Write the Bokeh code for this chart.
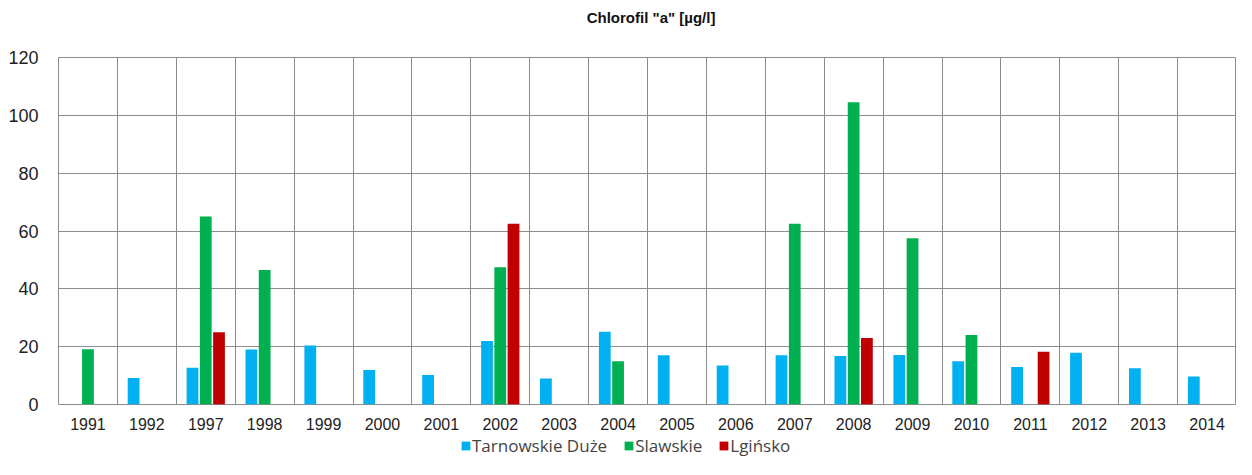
from bokeh.plotting import figure
from bokeh.layouts import column
from bokeh.models import ColumnDataSource, FixedTicker, Legend, LegendItem
from bokeh.core.properties import value
from bokeh.transform import dodge
from bokeh.embed import file_html
from bokeh.resources import INLINE

title_text = 'Chlorofil "a" [µg/l]'
years = ["1991", "1992", "1997", "1998", "1999", "2000", "2001", "2002", "2003", "2004",
         "2005", "2006", "2007", "2008", "2009", "2010", "2011", "2012", "2013", "2014"]
tarnowskie = [None, 9.2, 12.7, 19.0, 20.4, 11.9, 10.2, 22.0, 9.0, 25.2,
              17.0, 13.5, 17.0, 16.8, 17.1, 15.0, 13.0, 17.9, 12.5, 9.7]
slawskie = [19.1, None, 65.0, 46.5, None, None, None, 47.5, None, 15.0,
            None, None, 62.5, 104.5, 57.5, 24.0, None, None, None, None]
lginsko = [None, None, 25.0, None, None, None, None, 62.5, None, None,
           None, None, None, 23.0, None, None, 18.2, None, None, None]
yticks = [0, 20, 40, 60, 80, 100, 120]

series = [("Tarnowskie Duże", tarnowskie, "#00B0F0", -0.225),
          ("Slawskie", slawskie, "#00B050", 0.0),
          ("Lgińsko", lginsko, "#C00000", 0.225)]

W = 1236
LEFT = 58

# ---- title strip ----
tf = figure(width=W, height=34, output_backend="svg", toolbar_location=None,
            x_axis_type=None, y_axis_type=None, min_border=0, min_border_left=LEFT,
            x_range=(0, 1), y_range=(0, 1))
tf.outline_line_color = None
tf.xgrid.visible = False
tf.ygrid.visible = False
tf.text(x=[0.503], y=[0.5], text=[title_text],
        text_font=value("Liberation Sans"), text_font_size="15px",
        text_font_style="bold", text_color="#111111",
        text_align="center", text_baseline="middle")

# ---- main chart ----
p = figure(width=W, height=398, x_range=(0, len(years)), y_range=(0, 120),
           output_backend="svg", toolbar_location=None,
           min_border_left=LEFT, min_border_right=0, min_border_top=23, min_border_bottom=24)

grid_col = "#8c8c8c"
p.outline_line_color = grid_col
p.outline_line_width = 1

for name, vals, col, off in series:
    xs = [i + 0.5 for i, v in enumerate(vals) if v is not None]
    ts = [v for v in vals if v is not None]
    src = ColumnDataSource(dict(x=xs, top=ts))
    p.vbar(x=dodge("x", off), top="top", width=0.2, source=src,
           fill_color=col, line_color=None)

p.xaxis.ticker = FixedTicker(ticks=[i + 0.5 for i in range(len(years))])
p.xaxis.major_label_overrides = {i + 0.5: y for i, y in enumerate(years)}
p.yaxis.ticker = FixedTicker(ticks=yticks)
for ax in (p.xaxis, p.yaxis):
    ax.axis_line_color = None
    ax.major_tick_line_color = None
    ax.minor_tick_line_color = None
    ax.major_label_text_font = "Liberation Sans"
    ax.major_label_text_color = "#222222"
p.xaxis.major_label_text_font_size = "16px"
p.yaxis.major_label_text_font_size = "18px"
p.xaxis.major_label_standoff = 7
p.yaxis.major_label_standoff = 14

p.xgrid.ticker = FixedTicker(ticks=list(range(len(years) + 1)))
p.ygrid.ticker = FixedTicker(ticks=yticks)
for g in (p.xgrid, p.ygrid):
    g.grid_line_color = grid_col
    g.grid_line_width = 1

# ---- legend strip ----
lf = figure(width=W, height=27, output_backend="svg", toolbar_location=None,
            x_axis_type=None, y_axis_type=None, min_border=0, min_border_left=LEFT,
            x_range=(0, 1), y_range=(0, 1))
lf.outline_line_color = None
lf.xgrid.visible = False
lf.ygrid.visible = False
items = []
for name, vals, col, off in series:
    r = lf.vbar(x=[-5], top=[-5], bottom=[-6], width=0.2, fill_color=col, line_color=None)
    items.append(LegendItem(label=name, renderers=[r]))
legend = Legend(items=items, orientation="horizontal", location=(402, 2),
                label_text_font="Open Sans", label_text_font_size="17px",
                label_height=19, glyph_width=11, glyph_height=11, spacing=16, label_standoff=1,
                border_line_color=None, background_fill_alpha=0, padding=0, margin=0)
lf.add_layout(legend, "center")

layout = column(tf, p, lf, spacing=0)
open("out.html", "w").write(file_html(layout, INLINE))
